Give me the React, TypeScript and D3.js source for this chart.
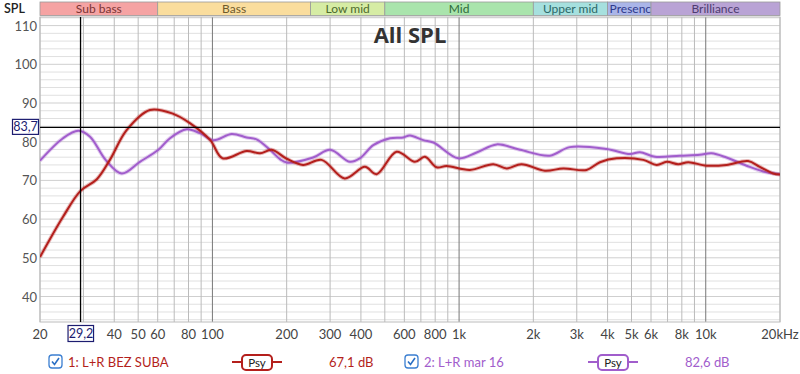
import React from 'react';
import * as d3 from 'd3';

const width = 800;
const height = 374;
const plot = { left: 40, right: 780, top: 17, bottom: 322 };

// frequency response, Hz / dB
const redFreq = [20, 24.8, 29.2, 34, 38.4, 44.9, 55.8, 69.4, 81, 98, 110, 137.7, 156, 174, 200, 233, 277, 344, 415, 463, 558, 662, 727, 811, 890, 1107, 1376, 1560, 1790, 2228, 2645, 3287, 3725, 4353, 5585, 6325, 6950, 7730, 8500, 10075, 12140, 14850, 16560, 18760, 20000];
const redDb = [50.2, 60.6, 67.3, 70.3, 75.3, 83, 88.2, 87.2, 84.8, 80.4, 75.7, 77.6, 77, 77.9, 75.6, 74, 75.3, 70.5, 73.5, 71.6, 77.4, 74.8, 76.1, 73.4, 73.7, 72.7, 74.2, 73.1, 74.2, 72.5, 73.1, 72.7, 74.7, 75.7, 75.3, 74, 74.8, 74.2, 74.7, 73.8, 74, 75, 73.5, 71.8, 71.5];

const purpleFreq = [20, 24.8, 28.6, 31.9, 36.9, 42.9, 50.8, 60.4, 67.3, 78.7, 89, 101, 119.8, 137.7, 151, 171, 188, 200, 256, 300, 361, 396, 449, 525, 594, 632, 716, 787, 993, 1178, 1420, 1766, 2335, 2813, 3966, 4932, 5410, 6224, 7855, 9460, 10560, 12140, 14630, 17100, 20000];
const purpleDb = [75.1, 80.9, 82.8, 81.3, 75.3, 71.8, 74.8, 77.9, 80.9, 83.2, 82.2, 80.4, 82, 81.1, 80.6, 77.9, 75.5, 74.6, 75.9, 77.9, 74.8, 75.7, 79.1, 80.9, 81.1, 81.6, 80.4, 79.8, 75.7, 77.2, 79.3, 77.9, 76.4, 78.6, 78.1, 76.8, 77.3, 76.1, 76.4, 76.6, 77, 75.9, 73.8, 72.3, 71.6];

const bandNames = ['Sub bass', 'Bass', 'Low mid', 'Mid', 'Upper mid', 'Presenc', 'Brilliance'];
const bandEdges = [20, 60, 250, 500, 2000, 4000, 6000, 20000];
const bandFill = ['#f5a3a3', '#fadd9d', '#d6eca4', '#a9e4ac', '#a6e0de', '#aab5e8', '#b9a3d5'];
const bandText = ['#7a3434', '#6e5a2c', '#4d6a2c', '#2e6a3a', '#2c6868', '#2f3a8c', '#4e3c70'];

const xTicks = [20, 40, 50, 60, 80, 100, 200, 300, 400, 600, 800, 1000, 2000, 3000, 4000, 5000, 6000, 8000, 10000, 20000];
const xTickLabels = ['20', '40', '50', '60', '80', '100', '200', '300', '400', '600', '800', '1k', '2k', '3k', '4k', '5k', '6k', '8k', '10k', '20kHz'];
const yTicks = [40, 50, 60, 70, 80, 90, 100, 110];

const cursorFreq = 29.2;
const cursorDb = 83.7;

const legendNames = ['1: L+R BEZ SUBA', '2: L+R mar 16'];
const legendLevels = ['67,1 dB', '82,6 dB'];
const legendColors = ['#b41f1c', '#a15dcc'];

const x = d3.scaleLog().domain([20, 20000]).range([plot.left, plot.right]);
const y = d3.scaleLinear().domain([40, 110]).range([296.5, 25.6]);

const gridFreqs: number[] = [];
[10, 100, 1000].forEach(dec => {
    for (let m = 1; m < 10; m++) {
        const f = dec * m;
        if (f >= 20 && f <= 20000) gridFreqs.push(f);
    }
});
gridFreqs.push(10000, 20000);

const gridDb = d3.range(34, 113, 2);

const font = 'Lato, "Noto Sans", sans-serif';

const line = d3.line<[number, number]>()
    .x(d => x(d[0]))
    .y(d => y(d[1]))
    .curve(d3.curveCatmullRom.alpha(0.5));

const Curve = ({ freq, db, color }: { freq: number[]; db: number[]; color: string }) => {
    const pts = freq.map((f, i) => [f, db[i]] as [number, number]);
    const d = line(pts) || '';
    return (
        <g>
            <path d={d} fill="none" stroke={color} strokeOpacity={0.3} strokeWidth={4} />
            <path d={d} fill="none" stroke={color} strokeWidth={2} />
        </g>
    );
};

const Legend = ({ i, x0 }: { i: number; x0: number }) => {
    const c = legendColors[i];
    const psyX = x0 + 183;
    return (
        <g>
            <rect x={x0} y={355} width={13} height={13} rx={3} fill="#fff" stroke="#3b7fd1" strokeWidth={1.3} />
            <path d={`M${x0 + 3},${361.5} L${x0 + 5.5},${364.5} L${x0 + 10},${358}`} fill="none" stroke="#2a6fc4" strokeWidth={1.6} />
            <text x={x0 + 19} y={366.5} fontSize={13} fill={c} fontFamily={font}>{legendNames[i]}</text>
            <line x1={psyX} x2={psyX + 50} y1={362} y2={362} stroke={c} strokeWidth={2} />
            <rect x={psyX + 10} y={355} width={30} height={15} rx={4} fill="#fff" stroke={c} strokeWidth={2} />
            <text x={psyX + 25} y={366.5} fontSize={11.5} textAnchor="middle" fill="#222" fontFamily={font}>Psy</text>
            <text x={x0 + 280} y={366.5} fontSize={13} fill={c} fontFamily={font}>{legendLevels[i]}</text>
        </g>
    );
};

const App = () => {
    const cx = x(cursorFreq);
    const cy = y(cursorDb);
    return (
        <svg width={width} height={height} style={{ position: 'absolute', left: 0, top: 0, background: '#fff' }}>
            <defs>
                <clipPath id="plotClip">
                    <rect x={plot.left} y={plot.top} width={plot.right - plot.left} height={plot.bottom - plot.top} />
                </clipPath>
            </defs>

            {/* bands */}
            {bandNames.map((n, i) => {
                const x0 = x(bandEdges[i]);
                const x1 = x(bandEdges[i + 1]);
                return (
                    <g key={n}>
                        <rect x={x0} y={2} width={x1 - x0} height={13.5} fill={bandFill[i]} stroke="#9a9a9a" strokeWidth={0.8} />
                        <text x={i === 5 ? x0 + 2 : (x0 + x1) / 2} y={13} fontSize={12} textAnchor={i === 5 ? 'start' : 'middle'} fill={bandText[i]} fontFamily={font}>{n}</text>
                    </g>
                );
            })}
            <text x={4} y={13} fontSize={12.5} fill="#222" fontFamily={font} fontWeight={600}>SPL</text>

            {/* grid */}
            {gridDb.map(v => (
                <line key={'h' + v} x1={plot.left} x2={plot.right} y1={y(v)} y2={y(v)} stroke={v % 10 === 0 ? '#cfcfcf' : '#e0e0e0'} strokeWidth={1} />
            ))}
            {gridFreqs.map(f => {
                const major = f === 100 || f === 1000 || f === 10000;
                return <line key={'v' + f} x1={x(f)} x2={x(f)} y1={plot.top} y2={plot.bottom} stroke={major ? '#777' : '#bbb'} strokeWidth={1} />;
            })}
            <rect x={plot.left} y={plot.top} width={plot.right - plot.left} height={plot.bottom - plot.top} fill="none" stroke="#bbb" />

            {/* y labels */}
            {yTicks.map(v => (
                <text key={'yl' + v} x={37} y={y(v) + 5} fontSize={13} textAnchor="end" fill="#555" fontFamily={font}>{v}</text>
            ))}
            {/* x labels */}
            {xTicks.map((f, i) => (
                <text key={'xl' + f} x={x(f)} y={339} fontSize={13} textAnchor="middle" fill="#444" fontFamily={font}>{xTickLabels[i]}</text>
            ))}

            <text x={410} y={43} fontSize={22} fontWeight="bold" textAnchor="middle" fill="#333" fontFamily='"Open Sans", "Noto Sans", sans-serif'>All SPL</text>

            <g clipPath="url(#plotClip)">
                <Curve freq={purpleFreq} db={purpleDb} color={legendColors[1]} />
                <Curve freq={redFreq} db={redDb} color={legendColors[0]} />
            </g>

            {/* cursor */}
            <line x1={cx} x2={cx} y1={plot.top} y2={plot.bottom} stroke="#000" strokeWidth={1.3} />
            <line x1={plot.left} x2={plot.right} y1={cy} y2={cy} stroke="#000" strokeWidth={1.3} />
            <rect x={12.5} y={cy - 8} width={26} height={15} fill="#fff" stroke="#1c1c70" strokeWidth={1.2} />
            <text x={25.5} y={cy + 4} fontSize={12.5} textAnchor="middle" fill="#1c1c70" fontFamily={font}>83,7</text>
            <rect x={cx - 12.5} y={325.5} width={25.5} height={16} fill="#fff" stroke="#1c1c70" strokeWidth={1.2} />
            <text x={cx + 0.5} y={338} fontSize={12.5} textAnchor="middle" fill="#1c1c70" fontFamily={font}>29,2</text>

            <Legend i={0} x0={49} />
            <Legend i={1} x0={405} />
        </svg>
    );
};

export default App;
